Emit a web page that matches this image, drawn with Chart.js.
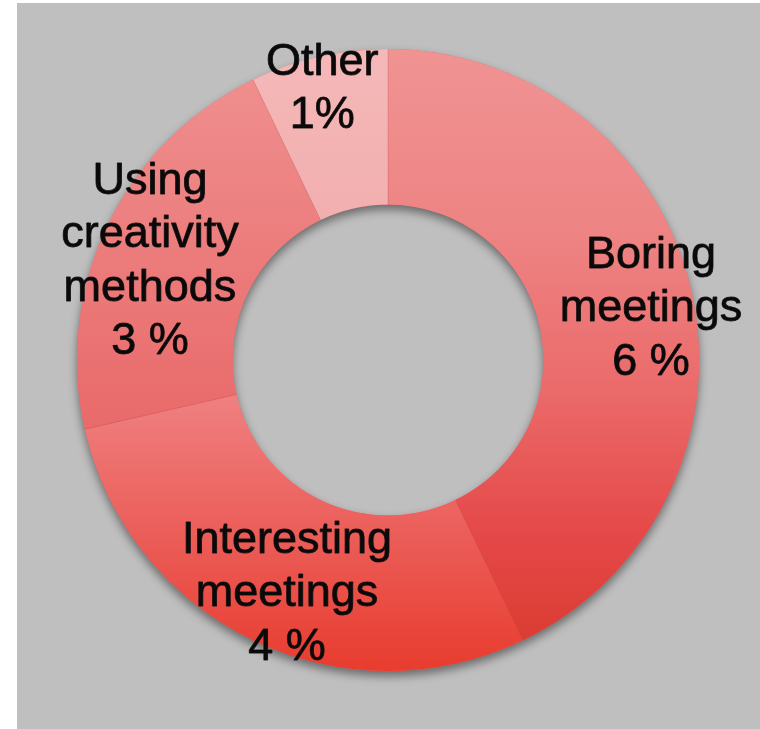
<!DOCTYPE html>
<html>
<head>
<meta charset="utf-8">
<script src="https://cdn.jsdelivr.net/npm/chart.js@4.4.1/dist/chart.umd.min.js"></script>
<style>
  html, body { margin: 0; padding: 0; background: #ffffff; width: 760px; height: 729px; overflow: hidden; }
  #wrap { position: absolute; left: 17px; top: 3px; width: 743px; height: 726px; background: #bfbfbf; }
  canvas { display: block; }
</style>
</head>
<body>
<div id="wrap"><canvas id="c"></canvas></div>
<script>
// ---- data ----
const categories = ['Boring meetings', 'Interesting meetings', 'Using creativity methods', 'Other'];
const values = [6, 4, 3, 1];
const labelLines = [
  ['Boring', 'meetings', '6 %'],
  ['Interesting', 'meetings', '4 %'],
  ['Using', 'creativity', 'methods', '3 %'],
  ['Other', '1%']
];

// ---- styles ----
const RING_RADIUS = 311;
const flatColors = ['#ea6a6a', '#eb5c55', '#ec7a7a', '#f3b2b2'];
const gradientStops = [
  [[0, '#f09393'], [0.3, '#ee8383'], [0.55, '#eb6a6a'], [0.78, '#e54848'], [1, '#d8392c']],
  [[0, '#f29090'], [0.56, '#ef8080'], [0.8, '#eb5a55'], [1, '#e83c2e']],
  [[0, '#f09090'], [0.1, '#ef8b8b'], [0.62, '#e96969'], [1, '#e65050']],
  [[0, '#f5b8b8'], [0.3, '#f2aeae'], [1, '#f0a0a0']]
];
const labelPlacement = [
  { f: 0.864, shift: 1.05 },
  { f: 0.808, shift: -2.0 },
  { f: 0.833, shift: -2.5 },
  { f: 0.908, shift: -0.6 }
];

function sliceGradient(context) {
  const chart = context.chart;
  const area = chart.chartArea;
  const i = context.dataIndex;
  if (!area) return flatColors[i];
  const cy = (area.top + area.bottom) / 2;
  const g = chart.ctx.createLinearGradient(0, cy - RING_RADIUS, 0, cy + RING_RADIUS);
  gradientStops[i].forEach(s => g.addColorStop(s[0], s[1]));
  return g;
}

const ringShadow = {
  id: 'ringShadow',
  beforeDatasetsDraw(chart) {
    const meta = chart.getDatasetMeta(0);
    const a = meta.data[0];
    if (!a) return;
    const ctx = chart.ctx;
    ctx.save();
    ctx.beginPath();
    ctx.arc(a.x, a.y, a.outerRadius, 0, Math.PI * 2);
    ctx.arc(a.x, a.y, a.innerRadius, 0, Math.PI * 2, true);
    ctx.closePath();
    ctx.shadowColor = 'rgba(0,0,0,0.45)';
    ctx.shadowBlur = 10;
    ctx.shadowOffsetY = 5;
    ctx.fillStyle = '#e86a6a';
    ctx.fill();
    ctx.restore();
  }
};

const sliceEdges = {
  id: 'sliceEdges',
  afterDatasetsDraw(chart) {
    const meta = chart.getDatasetMeta(0);
    const ctx = chart.ctx;
    ctx.save();
    ctx.strokeStyle = 'rgba(150,40,40,0.18)';
    ctx.lineWidth = 1;
    meta.data.forEach(arc => {
      const ang = arc.startAngle;
      ctx.beginPath();
      ctx.moveTo(arc.x + Math.cos(ang) * arc.innerRadius, arc.y + Math.sin(ang) * arc.innerRadius);
      ctx.lineTo(arc.x + Math.cos(ang) * arc.outerRadius, arc.y + Math.sin(ang) * arc.outerRadius);
      ctx.stroke();
    });
    ctx.restore();
  }
};

const sliceLabels = {
  id: 'sliceLabels',
  afterDatasetsDraw(chart) {
    const meta = chart.getDatasetMeta(0);
    const ctx = chart.ctx;
    const fontSize = 45, lineH = 53.5, capHalf = 16;
    ctx.save();
    ctx.font = fontSize + 'px "Liberation Sans", Arial, Helvetica, sans-serif';
    ctx.fillStyle = '#0a0a0a';
    ctx.strokeStyle = 'rgba(10,10,10,0.85)';
    ctx.lineWidth = 0.9;
    ctx.lineJoin = 'round';
    ctx.textAlign = 'center';
    ctx.textBaseline = 'alphabetic';
    meta.data.forEach((arc, i) => {
      const p = labelPlacement[i];
      const mid = (arc.startAngle + arc.endAngle) / 2 + p.shift * Math.PI / 180;
      const r = arc.outerRadius * p.f;
      const cx = arc.x + Math.cos(mid) * r;
      const cy = arc.y + Math.sin(mid) * r;
      const lines = labelLines[i];
      const n = lines.length;
      lines.forEach((t, k) => {
        const yy = cy + (k - (n - 1) / 2) * lineH + capHalf;
        ctx.fillText(t, cx, yy);
        ctx.strokeText(t, cx, yy);
      });
    });
    ctx.restore();
  }
};

new Chart(document.getElementById('c'), {
  type: 'doughnut',
  data: {
    labels: categories,
    datasets: [{
      data: values,
      backgroundColor: sliceGradient,
      borderWidth: 0
    }]
  },
  options: {
    responsive: true,
    maintainAspectRatio: false,
    animation: false,
    radius: RING_RADIUS,
    cutout: '50%',
    layout: { padding: { left: 0, right: 1, top: 0, bottom: 12 } },
    plugins: {
      legend: { display: false },
      tooltip: { enabled: false }
    }
  },
  plugins: [ringShadow, sliceEdges, sliceLabels]
});
</script>
</body>
</html>
